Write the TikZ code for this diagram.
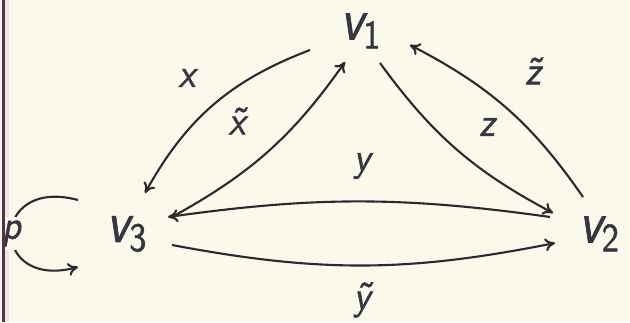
\documentclass[tikz,border=0pt]{standalone}
\usepackage{graphicx}
\usepackage{fontspec}
\newfontfamily\lmsi{lmsans10-oblique.otf}[FakeBold=1.3]
\newfontfamily\lmsu{lmsans10-regular.otf}[FakeBold=1.3]
\usetikzlibrary{arrows.meta}
\definecolor{bgc}{HTML}{FBF9EB}
\definecolor{bordc}{HTML}{5A3048}
\definecolor{bordl}{HTML}{F3E4E4}
\definecolor{txtc}{HTML}{35363F}
\definecolor{linec}{HTML}{2A2A2A}
\newcommand{\vlab}[1]{\scalebox{0.85}[1]{\fontsize{58}{58}\lmsi v\raisebox{-9pt}{\fontsize{40}{40}\lmsu #1}}}
\newcommand{\elab}[1]{\scalebox{0.9}[1]{\fontsize{40}{40}\lmsi #1}}
\begin{document}
\begin{tikzpicture}[x=1pt,y=1pt,
  vert/.style={inner sep=0pt, text=txtc},
  lbl/.style={inner sep=0pt, text=txtc},
  arc/.style={draw=linec, line width=2.1pt, -{To[length=10pt,width=13pt]}}]
\useasboundingbox (0,0) rectangle (630,322);
\clip (0,0) rectangle (630,322);
\fill[bgc] (0,0) rectangle (630,322);
\fill[bordl] (5,0) rectangle (9,322);
% vertices
\node[vert] (v1) at (360.5,291) {\vlab{1}};
\node[vert] (v3) at (126.5,88) {\vlab{3}};
\node[vert] (v2) at (599,88) {\vlab{2}};
% edges
\draw[arc] ([shift={(-50.5,-19)}]v1.center) to[bend right=20] ([shift={(18.5,41)}]v3.center);
\draw[arc] ([shift={(45.5,17)}]v3.center) to[bend right=13] ([shift={(-15.5,-31)}]v1.center);
\draw[arc] ([shift={(19.5,-32)}]v1.center) to[bend right=13] ([shift={(-46,21)}]v2.center);
\draw[arc] ([shift={(-16,37)}]v2.center) to[bend right=14] ([shift={(49.5,-14)}]v1.center);
\draw[arc] ([shift={(-49,17)}]v2.center) to[bend right=8] ([shift={(41.5,17)}]v3.center);
\draw[arc] ([shift={(45.5,-11)}]v3.center) to[bend right=11] ([shift={(-44,-9)}]v2.center);
% loop
\draw[arc] ([shift={(-48.5,34)}]v3.center) .. controls +(165:92) and +(195:92) .. ([shift={(-48.5,-33)}]v3.center)
  node[pos=0.5, fill=bgc, inner sep=4pt, text=txtc] (p) {\elab{p}};
% labels
\node[lbl] (lx) at (187,244) {\elab{x}};
\node[lbl] (lxt) at (237,201) {\elab{\~{x}}};
\node[lbl] (lz) at (487,195) {\elab{z}};
\node[lbl] (lzt) at (533,251) {\elab{\~{z}}};
\node[lbl] (ly) at (362,156) {\elab{y}};
\node[lbl] (lyt) at (362,22) {\elab{\~{y}}};
% border
\draw[bordc, line width=2.5pt] (3.5,0) -- (3.5,322);
\end{tikzpicture}
\end{document}
